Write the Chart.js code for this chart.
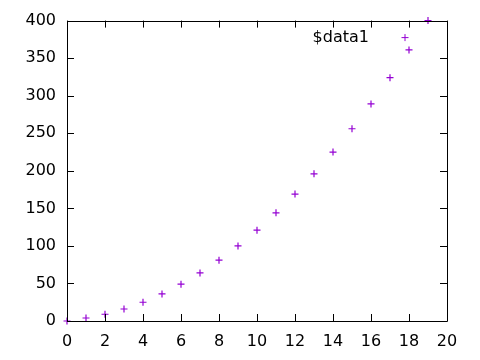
<!DOCTYPE html>
<html>
<head>
<meta charset="utf-8">
<script src="https://cdn.jsdelivr.net/npm/chart.js@4/dist/chart.umd.min.js"></script>
<style>
html,body{margin:0;padding:0;background:#fff;}
#wrap{width:480px;height:360px;}
</style>
</head>
<body>
<div id="wrap"><canvas id="c" width="480" height="360"></canvas></div>
<script>
const xValues = [0,1,2,3,4,5,6,7,8,9,10,11,12,13,14,15,16,17,18,19];
const yValues = [0,4,9,16,25,36,49,64,81,100,121,144,169,196,225,256,289,324,361,400];
const seriesName = '$data1';
const xTicks = [0,2,4,6,8,10,12,14,16,18,20];
const yTicks = [0,50,100,150,200,250,300,350,400];

const COLOR = '#9400d3';
const FONT = '16px "DejaVu Sans"';

const frame = {
  id: 'frame',
  afterDraw(chart) {
    const ctx = chart.ctx, a = chart.chartArea;
    const xs = chart.scales.x, ys = chart.scales.y;
    const L = 7;
    ctx.save();
    ctx.strokeStyle = '#000';
    ctx.lineWidth = 1;
    ctx.beginPath();
    ctx.rect(Math.round(a.left)+0.5, Math.round(a.top)+0.5, Math.round(a.right-a.left), Math.round(a.bottom-a.top));
    ctx.stroke();
    ctx.beginPath();
    xTicks.forEach(v => {
      const px = Math.round(xs.getPixelForValue(v)) + 0.5;
      ctx.moveTo(px, a.bottom); ctx.lineTo(px, a.bottom - L);
      ctx.moveTo(px, a.top); ctx.lineTo(px, a.top + L);
    });
    yTicks.forEach(v => {
      const py = Math.round(ys.getPixelForValue(v)) + 0.5;
      ctx.moveTo(a.left, py); ctx.lineTo(a.left + L, py);
      ctx.moveTo(a.right, py); ctx.lineTo(a.right - L, py);
    });
    ctx.stroke();
    // key
    const ky = a.top + 17;
    ctx.fillStyle = '#000';
    ctx.font = FONT;
    ctx.textAlign = 'right';
    ctx.textBaseline = 'middle';
    ctx.fillText(seriesName, a.right - 78, ky);
    const kx = a.right - 42;
    ctx.strokeStyle = COLOR;
    ctx.beginPath();
    ctx.moveTo(kx - 3.5, ky); ctx.lineTo(kx + 3.5, ky);
    ctx.moveTo(kx, ky - 3.5); ctx.lineTo(kx, ky + 3.5);
    ctx.stroke();
    ctx.restore();
  }
};

new Chart(document.getElementById('c'), {
  type: 'scatter',
  data: {
    datasets: [{
      label: seriesName,
      data: xValues.map((x, i) => ({x: x, y: yValues[i]})),
      pointStyle: 'cross',
      pointRadius: 3.5,
      pointHoverRadius: 3.5,
      borderColor: COLOR,
      backgroundColor: COLOR,
      borderWidth: 1.2,
      clip: false
    }]
  },
  options: {
    responsive: false,
    animation: false,
    events: [],
    layout: { padding: { left: 0, right: 33, top: 20, bottom: 0 } },
    plugins: { legend: { display: false }, tooltip: { enabled: false } },
    scales: {
      x: {
        type: 'linear', min: 0, max: 20,
        grid: { display: false, drawTicks: false },
        border: { display: false },
        afterFit(s) { s.height = 39; },
        afterBuildTicks(s) { s.ticks = xTicks.map(v => ({value: v})); },
        ticks: { color: '#000', font: { family: 'DejaVu Sans', size: 16 }, padding: 11, maxRotation: 0, autoSkip: false }
      },
      y: {
        type: 'linear', min: 0, max: 400,
        grid: { display: false, drawTicks: false },
        border: { display: false },
        afterFit(s) { s.width = 67; },
        afterBuildTicks(s) { s.ticks = yTicks.map(v => ({value: v})); },
        ticks: { color: '#000', font: { family: 'DejaVu Sans', size: 16 }, padding: 11, autoSkip: false }
      }
    }
  },
  plugins: [frame]
});
</script>
</body>
</html>
